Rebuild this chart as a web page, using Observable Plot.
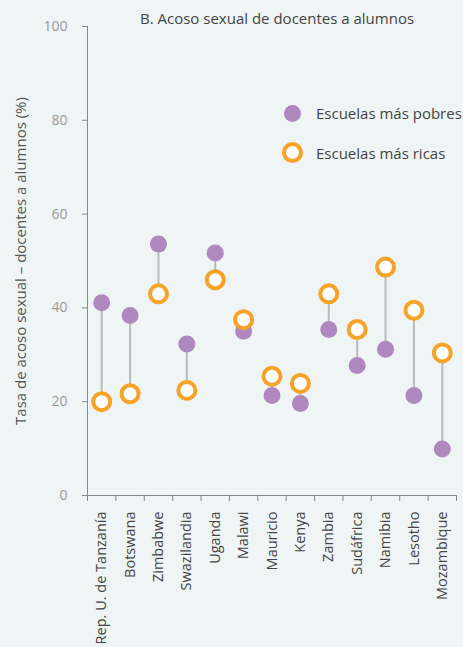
<!DOCTYPE html>
<html><head><meta charset="utf-8">
<script src="https://cdn.jsdelivr.net/npm/d3@7"></script>
<script src="https://cdn.jsdelivr.net/npm/@observablehq/plot@0.6"></script>
<style>
html,body{margin:0;padding:0;background:#eff4f4;}
#wrap{position:relative;width:463px;height:647px;font-family:"Open Sans",sans-serif;}
#title{position:absolute;top:8px;left:140px;font-size:15px;color:#444;white-space:nowrap;}
.leg{position:absolute;left:284px;font-size:15px;color:#444;display:flex;align-items:center;white-space:nowrap;}
.sw{width:17px;height:17px;border-radius:50%;box-sizing:border-box;margin-right:15px;}
</style></head><body>
<div id="wrap">
<div id="chart"></div>
<div id="title">B. Acoso sexual de docentes a alumnos</div>
<div class="leg" style="top:103px"><div class="sw" style="background:#b088c0"></div>Escuelas más pobres</div>
<div class="leg" style="top:142px"><div class="sw" style="background:#fff;border:4px solid #f7a229;width:21px;height:21px;margin-left:-2px;margin-right:13px"></div>Escuelas más ricas</div>
</div>
<script>
const countries = ["Rep. U. de Tanzanía","Botswana","Zimbabwe","Swazilandia","Uganda","Malawi","Mauricio","Kenya","Zambia","Sudáfrica","Namibia","Lesotho","Mozambique"];
const poorest = [41.1,38.4,53.6,32.3,51.7,35.0,21.3,19.6,35.4,27.7,31.2,21.3,9.9];
const richest = [20.0,21.7,43.0,22.4,46.0,37.5,25.4,23.9,43.0,35.4,48.7,39.5,30.4];
const yTicks = [0,20,40,60,80,100];

const data = countries.map((c,i)=>({i, c, poor:poorest[i], rich:richest[i]}));
const bounds = d3.range(countries.length+1).map(k=>k-0.5);

const chart = Plot.plot({
  width:463, height:647,
  marginTop:26, marginBottom:152, marginLeft:87, marginRight:7,
  style:{background:"transparent", fontFamily:"'Open Sans',sans-serif"},
  x:{domain:[-0.5, countries.length-0.5]},
  y:{domain:[0,100]},
  marks:[
    Plot.ruleX([-0.5],{y1:0,y2:100,stroke:"#888",strokeWidth:1}),
    Plot.ruleY([0],{stroke:"#888",strokeWidth:1}),
    Plot.axisY({ticks:yTicks, tickSize:5, stroke:"#888", color:"#999", fontSize:14, tickPadding:15, label:null}),
    Plot.axisY({ticks:[], label:"Tasa de acoso sexual – docentes a alumnos (%)", labelAnchor:"center",
      labelOffset:72, labelArrow:"none", color:"#555", fontSize:15}),
    Plot.axisX({ticks:bounds, tickSize:6, stroke:"#888", text:null, label:null}),
    Plot.axisX({ticks:d3.range(countries.length), tickSize:0, tickPadding:16, tickRotate:-90,
      tickFormat:i=>countries[i], fontSize:14.5, color:"#444", label:null}),
    Plot.link(data,{x1:"i",x2:"i",y1:"poor",y2:"rich",stroke:"#bbb",strokeWidth:2}),
    Plot.dot(data,{x:"i",y:"poor",r:8.5,fill:"#b088c0",stroke:"none"}),
    Plot.dot(data,{x:"i",y:"rich",r:8.5,fill:"#fff",stroke:"#f7a229",strokeWidth:4})
  ]
});
document.getElementById("chart").appendChild(chart);
</script>
</body></html>
